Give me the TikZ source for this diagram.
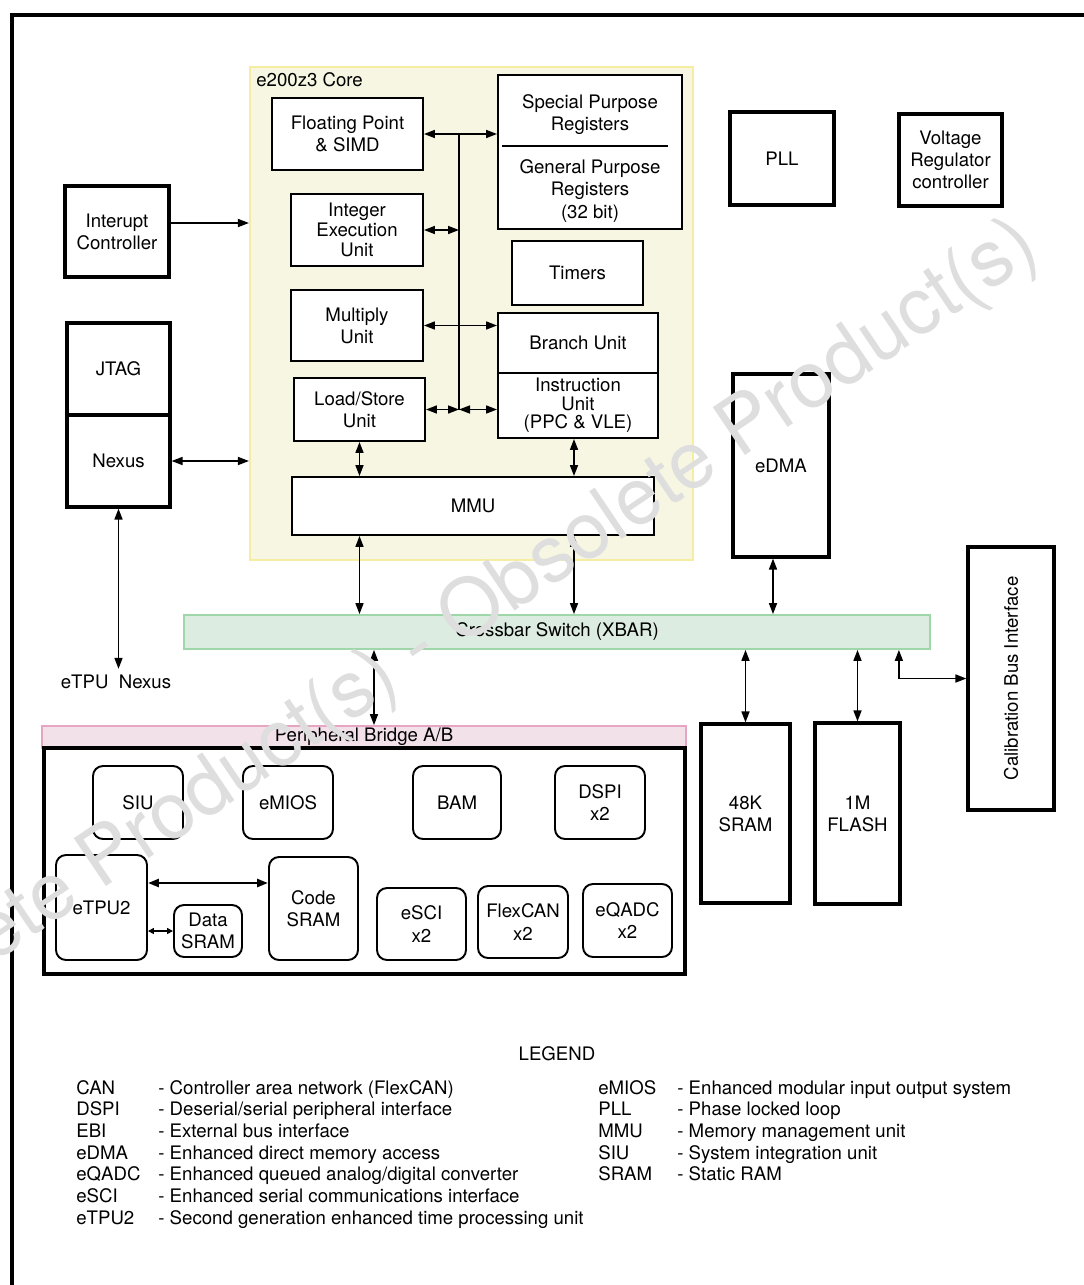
\documentclass[tikz,border=0pt]{standalone}
\usepackage{fontspec}
\setmainfont{TeX Gyre Heros}
\usetikzlibrary{arrows.meta}

\definecolor{corefill}{RGB}{246,246,226}
\definecolor{coreline}{RGB}{245,238,160}
\definecolor{xbarfill}{RGB}{220,236,225}
\definecolor{xbarline}{RGB}{160,215,170}
\definecolor{bridgefill}{RGB}{242,225,233}
\definecolor{bridgeline}{RGB}{230,165,195}
\definecolor{wmgray}{RGB}{222,222,222}

\begin{document}
\begin{tikzpicture}[
    x=0.02cm, y=-0.02cm,
    font=\fontsize{10.6}{12.6}\selectfont,
    >={Triangle[length=2.2mm,width=1.6mm]},
    sz/.style 2 args={minimum width=#1*0.02cm, minimum height=#2*0.02cm},
    blk/.style={draw, line width=1.1pt, fill=white, align=center, inner sep=0pt},
    hblk/.style={blk, line width=1.8pt},
    pblk/.style={blk, rounded corners=0.2cm},
    bus/.style={line width=0.9pt},
    tiny/.style={>={Triangle[length=1.2mm,width=1.2mm]}},
    lgd/.style={anchor=base west, inner sep=0pt},
]

\useasboundingbox (0,0) rectangle (1084,1285);
\clip (0,0) rectangle (1084,1285);

% --- Outer frame (runs off the page) ---
\draw[line width=1.9pt] (12,1300) -- (12,15) -- (1100,15);

% --- e200z3 core ---
\node[draw=coreline, fill=corefill, line width=1.2pt, sz={443}{493}] (core) at (471.5,313.5) {};
\node[anchor=west, inner sep=0pt] (corelbl) at (256,80) {e200z3 Core};

\node[blk, sz={151}{72}] (fpu) at (347.5,134) {Floating Point\\\& SIMD};
\node[blk, sz={184}{154}] (regs) at (590,152) {};
\draw[line width=1.1pt] (502,146) -- (668,146);
\node[align=center] (spr) at (590,115) {Special Purpose\\Registers};
\node[align=center] (gpr) at (590,191) {General Purpose\\Registers\\(32 bit)};
\node[blk, sz={132}{72}, font=\fontsize{10.6}{11.4}\selectfont] (ieu) at (357,230) {Integer\\Execution\\Unit};
\node[blk, sz={131}{64}] (timers) at (577.5,273) {Timers};
\node[blk, sz={132}{71}] (mul) at (357,325.5) {Multiply\\Unit};
\node[blk, sz={160}{60}] (bru) at (578,343) {Branch Unit};
\node[blk, sz={160}{65}, font=\fontsize{10.6}{10.6}\selectfont] (iu) at (578,405.5) {Instruction\\Unit\\(PPC \& VLE)};
\node[blk, sz={131}{63}] (lsu) at (359.5,409.5) {Load/Store\\Unit};
\node[blk, sz={362}{58}] (mmu) at (473,506) {MMU};

% internal bus
\coordinate (bustop) at (459,135);
\coordinate (busbot) at (459,409.5);
\draw[bus] (bustop) -- (busbot);

\draw[bus, <->] (fpu.east) -- (fpu.east -| regs.west);
\draw[bus, <->] (ieu.east) -- (ieu.east -| busbot);
\draw[bus, <->] (mul.east) -- (mul.east -| bru.west);
\draw[bus, <->] (lsu.east) -- (lsu.east -| busbot);
\draw[bus, <->] (lsu.east -| busbot) -- (lsu.east -| iu.west);
\draw[bus, <->] (lsu.south) -- (lsu.south |- mmu.north);
\draw[bus, <->] ([xshift=-0.08cm]iu.south) -- ([xshift=-0.08cm]iu.south |- mmu.north);

% --- Left side ---
\node[hblk, sz={104}{91}] (intc) at (117,231.5) {Interupt\\Controller};
\node[hblk, sz={103}{92}] (jtag) at (118.5,369) {JTAG};
\node[hblk, sz={103}{92}] (nexus) at (118.5,461) {Nexus};
\node (etpunex) at (116,682) {eTPU\ \ Nexus};

\coordinate (intcout) at ([yshift=0.17cm]intc.east);
\draw[bus, ->] (intcout) -- (intcout -| core.west);
\draw[bus, <->] (nexus.east) -- (nexus.east -| core.west);
\draw[bus, <->] (nexus.south) -- (nexus.south |- etpunex.north);

% --- Right side ---
\node[hblk, sz={104}{93}] (pll) at (782,158.5) {PLL};
\node[hblk, sz={103}{92}] (vreg) at (950.5,160) {Voltage\\Regulator\\controller};
\node[hblk, sz={96}{183}] (edma) at (781,465.5) {eDMA};
\node[hblk, sz={86}{263}] (calib) at (1011,678.5) {};
\node[rotate=90] (calibtxt) at (calib.center) {Calibration Bus Interface};
\node[hblk, sz={89}{179}] (sram) at (745.5,813.5) {48K\\SRAM};
\node[hblk, sz={85}{181}] (flash) at (857.5,813.5) {1M\\FLASH};

% --- Crossbar and peripheral bridge ---
\node[draw=xbarline, fill=xbarfill, line width=1pt, sz={746}{34}] (xbar) at (557,632) {Crossbar Switch (XBAR)};
\node[draw=bridgeline, fill=bridgefill, line width=1pt, sz={644}{22}, inner sep=0pt] (bridge) at (364,737) {Peripheral Bridge A/B};

\draw[bus, <->] (lsu |- mmu.south) -- (lsu |- xbar.north);
\draw[bus, <->] ([xshift=-0.08cm]iu.south |- mmu.south) -- ([xshift=-0.08cm]iu.south |- xbar.north);
\coordinate (edmaout) at ([xshift=-0.16cm]edma.south);
\draw[bus, <->] (edmaout) -- (edmaout |- xbar.north);
\coordinate (xbarbr) at ([xshift=0.2cm]bridge.north);
\draw[bus, <->] (xbarbr |- xbar.south) -- (xbarbr);
\draw[bus, <->] (sram.north |- xbar.south) -- (sram.north);
\draw[bus, <->] (flash.north |- xbar.south) -- (flash.north);
\coordinate (xbarcal) at ([xshift=-0.64cm]xbar.south east);
\draw[bus, <->] (xbarcal) |- (calib.west);

% --- Peripherals ---
\node[hblk, sz={641}{226}] (pbox) at (364.5,861) {};
\node[pblk, sz={90}{73}] (siu) at (138,802.5) {SIU};
\node[pblk, sz={90}{73}] (emios) at (288,802.5) {eMIOS};
\node[pblk, sz={88}{73}] (bam) at (457,802.5) {BAM};
\node[pblk, sz={90}{73}] (dspi) at (600,802.5) {DSPI\\x2};
\node[pblk, sz={91}{105}] (etpu) at (101.5,907.5) {eTPU2};
\node[pblk, sz={68}{52}] (dsram) at (208,931) {Data\\SRAM};
\node[pblk, sz={89}{103}] (csram) at (313.5,908.5) {Code\\SRAM};
\node[pblk, sz={89}{72}] (esci) at (421.5,924) {eSCI\\x2};
\node[pblk, sz={90}{72}] (flexcan) at (523,922) {FlexCAN\\x2};
\node[pblk, sz={89}{73}] (eqadc) at (627.5,920.5) {eQADC\\x2};

\coordinate (etpucode) at ([yshift=0.49cm]etpu.east);
\draw[line width=1.4pt, <->] (etpucode) -- (etpucode -| csram.west);
\draw[bus, tiny, <->] (dsram.west -| etpu.east) -- (dsram.west);

% --- Legend ---
\node (lgtitle) at (557,1054) {LEGEND};
\foreach \ab/\ds [count=\i] in {CAN/{- Controller area network (FlexCAN)},
    DSPI/{- Deserial/serial peripheral interface},
    EBI/{- External bus interface},
    eDMA/{- Enhanced direct memory access},
    eQADC/{- Enhanced queued analog/digital converter},
    eSCI/{- Enhanced serial communications interface},
    eTPU2/{- Second generation enhanced time processing unit}} {
    \node[lgd] (lab\i) at (76, {1094+(\i-1)*21.7}) {\ab};
    \node[lgd] (ldsc\i) at (158, {1094+(\i-1)*21.7}) {\ds};
}
\foreach \ab/\ds [count=\i] in {eMIOS/{- Enhanced modular input output system},
    PLL/{- Phase locked loop},
    MMU/{- Memory management unit},
    SIU/{- System integration unit},
    SRAM/{- Static RAM}} {
    \node[lgd] (rab\i) at (598, {1094+(\i-1)*21.7}) {\ab};
    \node[lgd] (rdsc\i) at (677, {1094+(\i-1)*21.7}) {\ds};
}

% --- Watermark ---
\node[text=wmgray, rotate=34, font=\fontsize{45}{45}\selectfont] (wmark) at (420,650)
    {Obsolete Product(s) - Obsolete Product(s)};

\end{tikzpicture}
\end{document}
